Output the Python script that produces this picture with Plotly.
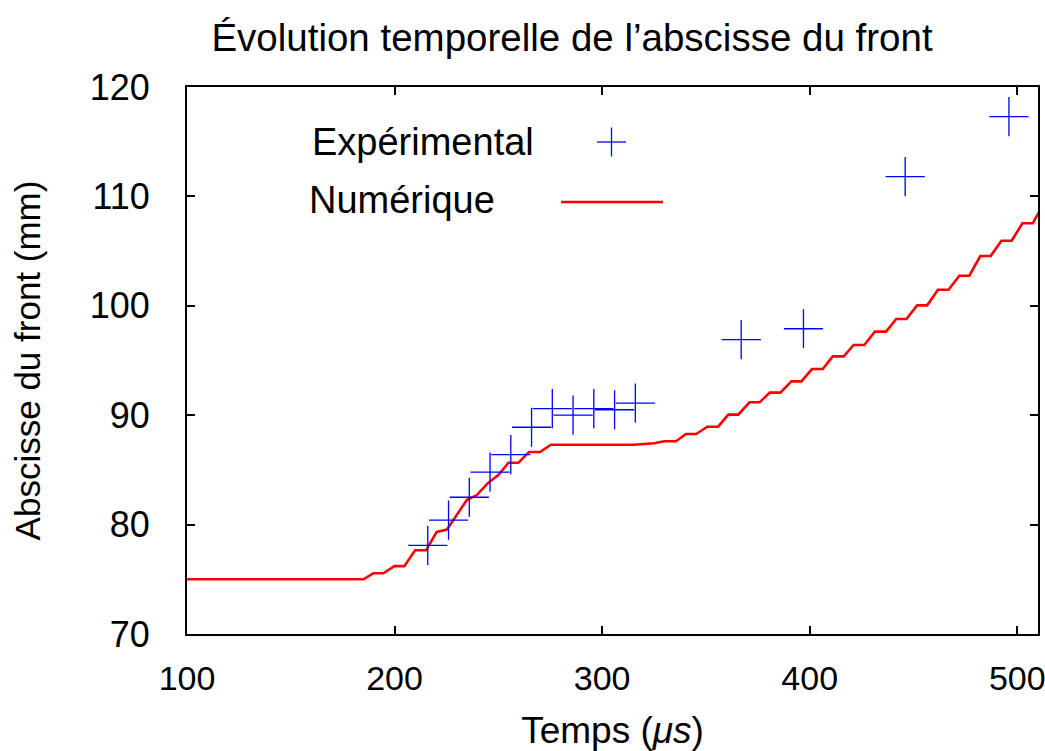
import plotly.graph_objects as go

# Mesures expérimentales : temps (µs) et abscisse du front (mm)
exp_temps = [216, 226, 236, 246, 256, 266, 276, 286, 296, 306, 316, 367, 397, 446, 496]
exp_abscisse = [78.1, 80.4, 82.5, 84.8, 86.4, 88.9, 90.6, 90.0, 90.6, 90.5, 91.1, 96.9, 97.9, 111.8, 117.3]

# Résultat numérique (courbe en escalier)
num_temps = [100, 185, 189.8, 194.6, 199.9, 204.7, 209.9, 215.2, 220.3, 225.2, 234.8, 239.6,
             245.2, 250.0, 254.9, 259.7, 264.8, 270.1, 275.3, 315.3, 325.0, 329.9, 335.6,
             340.4, 345.3, 350.7, 355.9, 360.8, 365.6, 371.0, 375.9, 380.8, 385.9, 391.2,
             396.0, 401.1, 406.3, 411.1, 416.4, 421.2, 426.3, 431.4, 436.8, 441.7, 446.6,
             451.8, 456.6, 461.8, 466.9, 472.1, 476.9, 482.2, 487.2, 492.4, 497.3, 502.5,
             507.5, 511.9]
num_abscisse = [75.0, 75.0, 75.55, 75.55, 76.2, 76.2, 77.65, 77.65, 79.33, 79.54, 82.25, 82.7,
                83.83, 84.53, 85.66, 85.66, 86.64, 86.64, 87.3, 87.3, 87.43, 87.62, 87.62,
                88.28, 88.28, 88.95, 88.95, 90.05, 90.05, 91.18, 91.18, 92.06, 92.06, 93.09,
                93.09, 94.22, 94.22, 95.38, 95.38, 96.42, 96.42, 97.64, 97.64, 98.79, 98.79,
                100.04, 100.04, 101.47, 101.47, 102.75, 102.75, 104.55, 104.55, 105.95, 105.95,
                107.54, 107.54, 109.06]

x_ticks = [100, 200, 300, 400, 500]
y_ticks = [70, 80, 90, 100, 110, 120]

FONT = "Liberation Sans, Arial, Helvetica, sans-serif"
BLUE = "#0000ff"
RED = "#ff0000"

W, H = 1045, 751
L, R, T, B = 187, 7, 87, 117
PW, PH = W - L - R, H - T - B


def px(x):
    return (x - L) / PW


def py(y):
    return (H - B - y) / PH


fig = go.Figure()

fig.add_trace(go.Scatter(
    x=num_temps, y=num_abscisse, mode="lines", name="Numérique",
    line=dict(color=RED, width=2.6), showlegend=False,
))
fig.add_trace(go.Scatter(
    x=exp_temps, y=exp_abscisse, mode="markers", name="Expérimental",
    marker=dict(symbol="cross-thin", size=28, line=dict(color=BLUE, width=1.3)),
    showlegend=False,
))

# Légende à la manière de gnuplot : texte à gauche, échantillon à droite
shapes = [
    dict(type="line", xref="paper", yref="paper",
         x0=px(597), x1=px(626), y0=py(142), y1=py(142),
         line=dict(color=BLUE, width=1.3)),
    dict(type="line", xref="paper", yref="paper",
         x0=px(611.5), x1=px(611.5), y0=py(127.5), y1=py(156.5),
         line=dict(color=BLUE, width=1.3)),
    dict(type="line", xref="paper", yref="paper",
         x0=px(561), x1=px(663), y0=py(202), y1=py(202),
         line=dict(color=RED, width=2.6)),
]
annotations = [
    dict(text="Expérimental", xref="paper", yref="paper", x=px(536), y=py(142),
         xanchor="right", yanchor="middle", showarrow=False,
         font=dict(family=FONT, size=38, color="black")),
    dict(text="Numérique", xref="paper", yref="paper", x=px(497), y=py(200),
         xanchor="right", yanchor="middle", showarrow=False,
         font=dict(family=FONT, size=38, color="black")),
]

axis_common = dict(
    showgrid=False, zeroline=False, showline=True, linecolor="black", linewidth=2,
    mirror="allticks", ticks="inside", ticklen=8, tickwidth=1.5, tickcolor="black",
    ticklabeloverflow="allow", automargin=False,
)

fig.update_layout(
    width=W, height=H,
    margin=dict(l=L, r=R, t=T, b=B, pad=0),
    paper_bgcolor="white", plot_bgcolor="white",
    title=dict(text="Évolution temporelle de l’abscisse du front",
               x=572 / W, xref="container", xanchor="center",
               y=1 - 38 / H, yref="container", yanchor="middle",
               font=dict(family=FONT, size=38.5, color="black")),
    xaxis=dict(range=[100, 510], tickvals=x_ticks, ticklabelstandoff=13,
               tickfont=dict(family=FONT, size=34, color="black"),
               title=dict(text="Temps (<i>μs</i>)", standoff=26,
                          font=dict(family=FONT, size=37, color="black")),
               **axis_common),
    yaxis=dict(range=[70, 120], tickvals=y_ticks, ticklabelstandoff=28,
               tickfont=dict(family=FONT, size=36, color="black"),
               title=dict(text="Abscisse du front (mm)", standoff=38,
                          font=dict(family=FONT, size=35, color="black")),
               **axis_common),
    shapes=shapes,
    annotations=annotations,
)

fig.write_html("out.html")
